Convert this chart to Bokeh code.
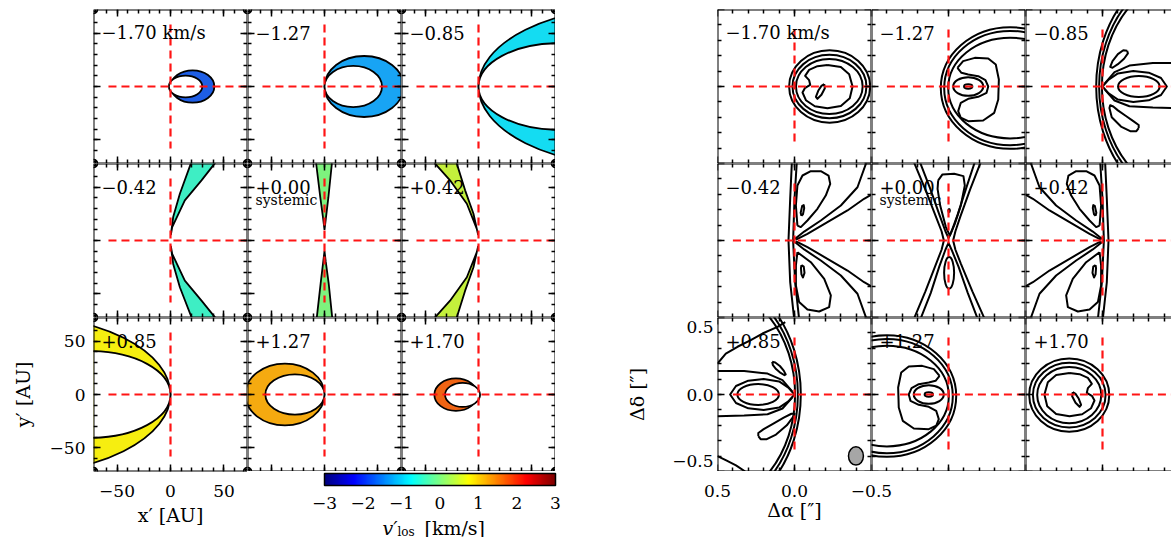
import numpy as np
from bokeh.plotting import figure
from bokeh.models import (GridBox, Range1d, LinearAxis, FixedTicker, Label,
                          LinearColorMapper, ColumnDataSource)
from bokeh.embed import file_html
from bokeh.resources import INLINE

# ======================= DATA =======================
PANEL_LABELS = ["−1.70 km/s", "−1.27", "−0.85", "−0.42", "+0.00", "+0.42", "+0.85", "+1.27", "+1.70"]
SYSTEMIC_LABEL = "systemic"
CHANNEL_FILL = ["#1e5ee6", "#18a4f4", "#14dcf2", "#3eeec4", "#7ef27e",
                "#c4f03c", "#f6ee10", "#f5aa10", "#f06414"]

# axis ticks
AU_MAJOR = [-50, 0, 50]
AU_MINOR = [-70, -60, -50, -40, -30, -20, -10, 0, 10, 20, 30, 40, 50, 60, 70]
AU_LABELS = ["−50", "0", "50"]
AS_MAJOR = [0.5, 0.0, -0.5]
AS_MINOR = [0.4, 0.3, 0.2, 0.1, 0.0, -0.1, -0.2, -0.3, -0.4]
AS_LABELS = ["0.5", "0.0", "−0.5"]
AS_YLABEL_AT = [0.44, 0.0, -0.43]
CBAR_TICKS = [-3, -2, -1, 0, 1, 2, 3]
CBAR_LABELS = ["−3", "−2", "−1", "0", "1", "2", "3"]
CBAR_LOW, CBAR_HIGH = -3.0, 3.0

# ---- left grid: iso-velocity regions [AU] ----
# crescents: (cx, cy, width, height) of outer (filled) and inner (hole) ellipse
LEFT_OUTER = [(20.65, 0.0, 40.7, 30.3), (37.0, 0.0, 74.0, 57.0), (150.0, 0.0, 300.0, 150.0),
              None, None, None,
              (-150.0, 0.0, 300.0, 150.0), (-37.0, 0.0, 74.0, 57.75), (-21.1, -0.15, 40.35, 30.3)]
LEFT_INNER = [(14.1, 0.0, 31.2, 20.3), (26.9, 0.0, 53.8, 38.5), (75.0, 0.0, 150.0, 81.0),
              None, None, None,
              (-75.0, 0.0, 150.0, 81.0), (-27.65, 0.0, 55.3, 37.5), (-14.9, -0.35, 32.75, 22.5)]
# wedge outlines for the low-velocity channels
WEDGE_M042_UP = [(0.3, 5), (2.5, 21.9), (8.75, 43.75), (19, 71.9), (21, 78), (46, 78),
                 (41.25, 71.9), (29, 56.25), (13.4, 37.5), (1.6, 12.5), (0.3, 5)]
WEDGE_M042_DN = [(0.3, -5), (2.5, -21.9), (8.75, -43.75), (19.7, -71.9), (21.5, -78), (46, -78),
                 (41.6, -71.9), (29, -56.25), (13.4, -37.5), (1.6, -12.5), (0.3, -5)]
WEDGE_000_UP = [(0, 10), (-1.2, 20), (-3.9, 40), (-7.8, 72), (-8.5, 78), (7.5, 78),
                (6.9, 72), (3.6, 40), (1.2, 20), (0, 10)]
WEDGE_000_DN = [(0, -10), (-1.2, -20), (-3.6, -40), (-7.2, -72), (-7.8, -78), (7.8, -78),
                (7.2, -72), (3.9, -40), (1.2, -20), (0, -10)]
WEDGE_P042_UP = [(-0.3, 5), (-4.7, 25), (-12.5, 46.9), (-20.3, 71.9), (-22, 78), (-44, 78),
                 (-40.6, 71.9), (-26.6, 56.25), (-10.9, 34.4), (-1.6, 10.9), (-0.3, 5)]
WEDGE_P042_DN = [(-0.3, -5), (-4.7, -25), (-12.5, -46.9), (-20.3, -71.9), (-22, -78), (-44, -78),
                 (-40.6, -71.9), (-26.6, -56.25), (-10.9, -34.4), (-1.6, -10.9), (-0.3, -5)]
LEFT_WEDGES = [None, None, None, [WEDGE_M042_UP, WEDGE_M042_DN], [WEDGE_000_UP, WEDGE_000_DN],
               [WEDGE_P042_UP, WEDGE_P042_DN], None, None, None]

# ---- right grid: synthetic channel-map contours [arcsec] ----
# ellipses: (x, y, width, height); curves: lists of (x, y)
R_M170_ELL = [(-0.228, 0.0, 0.526, 0.470), (-0.227, 0.0, 0.480, 0.411), (-0.226, 0.0, 0.433, 0.357)]
R_M170_CRV = [
    [(-0.214, 0.139), (-0.301, 0.126), (-0.355, 0.080), (-0.377, 0.0), (-0.359, -0.076), (-0.301, -0.126),
     (-0.214, -0.141), (-0.132, -0.128), (-0.074, -0.089), (-0.052, -0.039), (-0.067, -0.011),
     (-0.102, 0.011), (-0.095, 0.041), (-0.069, 0.069), (-0.095, 0.108), (-0.149, 0.132), (-0.214, 0.139)],
    [(-0.193, 0.015), (-0.197, -0.011), (-0.175, -0.054), (-0.149, -0.080), (-0.139, -0.067),
     (-0.154, -0.028), (-0.175, 0.004), (-0.193, 0.015)]]
R_M127_ELL = [(-0.40, -0.01, 0.90, 0.79), (-0.40, -0.01, 0.856, 0.742), (-0.40, -0.01, 0.804, 0.654),
              (-0.128, 0.0, 0.195, 0.12), (-0.128, 0.0, 0.054, 0.028)]
R_M127_CRV = [
    [(-0.058, 0.121), (-0.095, 0.165), (-0.171, 0.186), (-0.258, 0.182), (-0.307, 0.143), (-0.327, 0.045),
     (-0.323, -0.084), (-0.297, -0.171), (-0.225, -0.221), (-0.128, -0.225), (-0.080, -0.203),
     (-0.063, -0.160), (-0.080, -0.106), (-0.128, -0.080), (-0.193, -0.067), (-0.247, -0.041),
     (-0.258, 0.0), (-0.240, 0.041), (-0.193, 0.067), (-0.128, 0.078), (-0.084, 0.089), (-0.058, 0.121)]]
R_M085_ELL = [(-0.6, 0.0, 1.282, 1.60), (-0.6, 0.0, 1.244, 1.526), (-0.6, 0.0, 1.208, 1.458),
              (-0.236, 0.0, 0.27, 0.136)]
R_M085_CRV = [
    [(-0.5, 0.152), (-0.327, 0.152), (-0.175, 0.136), (-0.078, 0.093), (-0.015, 0.02)],
    [(-0.5, -0.141), (-0.327, -0.136), (-0.175, -0.128), (-0.078, -0.091), (-0.015, -0.02)],
    [(0.0, 0.0), (-0.04, 0.045), (-0.10, 0.085), (-0.20, 0.10), (-0.30, 0.09), (-0.38, 0.055), (-0.418, 0.0),
     (-0.38, -0.055), (-0.30, -0.09), (-0.20, -0.10), (-0.10, -0.085), (-0.04, -0.045), (0.0, 0.0)],
    [(-0.16, 0.232), (-0.135, 0.235), (-0.10, 0.21), (-0.065, 0.165), (-0.05, 0.128), (-0.065, 0.122),
     (-0.10, 0.145), (-0.14, 0.18), (-0.165, 0.215), (-0.16, 0.232)],
    [(-0.235, -0.27), (-0.22, -0.29), (-0.18, -0.29), (-0.12, -0.26), (-0.06, -0.2), (-0.045, -0.14),
     (-0.05, -0.122), (-0.07, -0.13), (-0.10, -0.155), (-0.15, -0.19), (-0.2, -0.225), (-0.235, -0.25),
     (-0.235, -0.27)]]
R_M042_ELL = []
R_M042_CRV = [
    [(0.017, 0.51), (0.028, 0.271), (0.039, 0.0), (0.028, -0.271), (0.002, -0.51)],
    [(-0.015, 0.51), (0.0, 0.271), (0.009, 0.0), (-0.004, -0.271), (-0.030, -0.51)],
    [(-0.019, 0.097), (-0.009, 0.227), (-0.019, 0.357), (-0.052, 0.422), (-0.106, 0.450), (-0.171, 0.450),
     (-0.221, 0.422), (-0.232, 0.368), (-0.203, 0.292), (-0.149, 0.206), (-0.084, 0.130), (-0.041, 0.087),
     (-0.019, 0.097)],
    [(-0.045, 0.16), (-0.04, 0.18), (-0.05, 0.225), (-0.06, 0.23), (-0.063, 0.21), (-0.055, 0.17), (-0.045, 0.16)],
    [(-0.019, -0.076), (-0.106, -0.141), (-0.193, -0.249), (-0.236, -0.357), (-0.225, -0.433),
     (-0.160, -0.461), (-0.084, -0.448), (-0.030, -0.400), (-0.009, -0.292), (-0.009, -0.162), (-0.019, -0.076)],
    [(-0.045, -0.16), (-0.06, -0.17), (-0.065, -0.21), (-0.055, -0.24), (-0.045, -0.22), (-0.042, -0.18), (-0.045, -0.16)],
    [(-0.002, 0.01), (-0.063, 0.058), (-0.171, 0.130), (-0.301, 0.227), (-0.409, 0.346), (-0.468, 0.51)],
    [(-0.01, 0.005), (-0.084, 0.043), (-0.214, 0.119), (-0.344, 0.195), (-0.452, 0.271), (-0.51, 0.303)],
    [(-0.002, -0.01), (-0.063, -0.058), (-0.171, -0.130), (-0.301, -0.227), (-0.409, -0.346), (-0.468, -0.51)],
    [(-0.01, -0.005), (-0.084, -0.043), (-0.214, -0.119), (-0.344, -0.195), (-0.452, -0.271), (-0.51, -0.303)]]
R_P000_ELL = [(-0.004, -0.21, 0.065, 0.205), (-0.004, 0.195, 0.01, 0.02)]
R_P000_CRV = [
    [(0.225, 0.51), (0.15, 0.33), (0.08, 0.15), (0.045, 0.06), (0.03, 0.0), (0.045, -0.06), (0.08, -0.15),
     (0.15, -0.33), (0.225, -0.51)],
    [(-0.21, 0.51), (-0.14, 0.33), (-0.075, 0.15), (-0.045, 0.06), (-0.03, 0.0), (-0.045, -0.06),
     (-0.08, -0.15), (-0.155, -0.33), (-0.235, -0.51)],
    [(0.186, 0.51), (0.12, 0.34), (0.06, 0.17), (0.02, 0.06), (0.0, 0.015), (-0.02, 0.06), (-0.06, 0.17),
     (-0.115, 0.34), (-0.171, 0.51)],
    [(0.182, -0.51), (0.115, -0.34), (0.06, -0.17), (0.02, -0.06), (0.0, -0.015), (-0.02, -0.06),
     (-0.065, -0.17), (-0.125, -0.34), (-0.19, -0.51)],
    [(0.067, 0.39), (0.039, 0.429), (-0.037, 0.433), (-0.097, 0.418), (-0.106, 0.357), (-0.080, 0.227),
     (-0.041, 0.108), (-0.009, 0.032), (0.017, 0.087), (0.054, 0.227), (0.071, 0.335), (0.067, 0.39)]]
R_P042_ELL = []
R_P042_CRV = [
    [(-0.017, 0.51), (-0.028, 0.271), (-0.039, 0.0), (-0.028, -0.271), (-0.002, -0.51)],
    [(0.015, 0.51), (0.0, 0.271), (-0.009, 0.0), (0.004, -0.271), (0.030, -0.51)],
    [(0.019, 0.097), (0.009, 0.227), (0.019, 0.357), (0.052, 0.422), (0.106, 0.450), (0.171, 0.450),
     (0.221, 0.422), (0.232, 0.368), (0.203, 0.292), (0.149, 0.206), (0.084, 0.130), (0.041, 0.087),
     (0.019, 0.097)],
    [(0.045, 0.16), (0.04, 0.18), (0.05, 0.225), (0.06, 0.23), (0.063, 0.21), (0.055, 0.17), (0.045, 0.16)],
    [(0.019, -0.076), (0.106, -0.141), (0.193, -0.249), (0.236, -0.357), (0.225, -0.433),
     (0.160, -0.461), (0.084, -0.448), (0.030, -0.400), (0.009, -0.292), (0.009, -0.162), (0.019, -0.076)],
    [(0.045, -0.16), (0.06, -0.17), (0.065, -0.21), (0.055, -0.24), (0.045, -0.22), (0.042, -0.18), (0.045, -0.16)],
    [(0.002, 0.01), (0.063, 0.058), (0.171, 0.130), (0.301, 0.227), (0.409, 0.346), (0.468, 0.51)],
    [(0.01, 0.005), (0.084, 0.043), (0.214, 0.119), (0.344, 0.195), (0.452, 0.271), (0.51, 0.303)],
    [(0.002, -0.01), (0.063, -0.058), (0.171, -0.130), (0.301, -0.227), (0.409, -0.346), (0.468, -0.51)],
    [(0.01, -0.005), (0.084, -0.043), (0.214, -0.119), (0.344, -0.195), (0.452, -0.271), (0.51, -0.303)]]
R_P085_ELL = [(0.6, 0.0, 1.282, 1.60), (0.6, 0.0, 1.244, 1.526), (0.6, 0.0, 1.208, 1.458),
              (0.236, 0.0, 0.27, 0.136)]
R_P085_CRV = [
    [(0.5, 0.152), (0.327, 0.152), (0.175, 0.136), (0.078, 0.093), (0.015, 0.02)],
    [(0.5, -0.141), (0.327, -0.136), (0.175, -0.128), (0.078, -0.091), (0.015, -0.02)],
    [(0.0, 0.0), (0.04, 0.045), (0.10, 0.085), (0.20, 0.10), (0.30, 0.09), (0.38, 0.055), (0.418, 0.0),
     (0.38, -0.055), (0.30, -0.09), (0.20, -0.10), (0.10, -0.085), (0.04, -0.045), (0.0, 0.0)],
    [(0.145, 0.212), (0.125, 0.208), (0.095, 0.185), (0.07, 0.155), (0.057, 0.13), (0.065, 0.125),
     (0.09, 0.14), (0.12, 0.165), (0.14, 0.19), (0.145, 0.212)],
    [(0.235, -0.27), (0.22, -0.29), (0.18, -0.29), (0.12, -0.26), (0.05, -0.2), (0.005, -0.14),
     (0.0, -0.125), (0.02, -0.125), (0.07, -0.15), (0.14, -0.19), (0.2, -0.225), (0.235, -0.25), (0.235, -0.27)],
    [(0.5, 0.201), (0.446, 0.266), (0.370, 0.310), (0.284, 0.353), (0.208, 0.396), (0.110, 0.439), (0.06, 0.47)],
    [(0.5, -0.40), (0.44, -0.43), (0.38, -0.46), (0.32, -0.50)]]
R_P127_ELL = [(0.40, -0.01, 0.90, 0.79), (0.40, -0.01, 0.856, 0.742), (0.40, -0.01, 0.804, 0.654),
              (0.128, 0.0, 0.195, 0.12), (0.128, 0.0, 0.054, 0.028)]
R_P127_CRV = [
    [(0.058, 0.121), (0.095, 0.165), (0.171, 0.186), (0.258, 0.182), (0.307, 0.143), (0.327, 0.045),
     (0.323, -0.084), (0.297, -0.171), (0.225, -0.221), (0.128, -0.225), (0.080, -0.203),
     (0.063, -0.160), (0.080, -0.106), (0.128, -0.080), (0.193, -0.067), (0.247, -0.041),
     (0.258, 0.0), (0.240, 0.041), (0.193, 0.067), (0.128, 0.078), (0.084, 0.089), (0.058, 0.121)]]
R_P170_ELL = [(0.216, -0.004, 0.52, 0.476), (0.216, -0.004, 0.472, 0.42), (0.216, -0.004, 0.416, 0.364)]
R_P170_CRV = [
    [(0.214, 0.139), (0.301, 0.126), (0.355, 0.080), (0.377, 0.0), (0.359, -0.076), (0.301, -0.126),
     (0.214, -0.141), (0.132, -0.128), (0.074, -0.089), (0.052, -0.039), (0.067, -0.011),
     (0.102, 0.011), (0.095, 0.041), (0.069, 0.069), (0.095, 0.108), (0.149, 0.132), (0.214, 0.139)],
    [(0.193, 0.015), (0.197, -0.011), (0.175, -0.054), (0.149, -0.080), (0.139, -0.067),
     (0.154, -0.028), (0.175, 0.004), (0.193, 0.015)]]
RIGHT_ELLIPSES = [R_M170_ELL, R_M127_ELL, R_M085_ELL, R_M042_ELL, R_P000_ELL,
                  R_P042_ELL, R_P085_ELL, R_P127_ELL, R_P170_ELL]
RIGHT_CURVES = [R_M170_CRV, R_M127_CRV, R_M085_CRV, R_M042_CRV, R_P000_CRV,
                R_P042_CRV, R_P085_CRV, R_P127_CRV, R_P170_CRV]
BEAM = (-0.399, -0.399, 0.097, 0.119)   # synthesized beam (x, y, width, height), panel +0.85

# ======================= LAYOUT / STYLE =======================
FR = 154                      # panel frame size in px
AU_LIM = 72.0
AS_LIM = 0.5
LAST_W = 146                  # last column is cut by the page edge
AS_CUT = 0.5 - LAST_W / FR
LEFT_H = (-58, 72)
LEFT_V = (58, -58)
RIGHT_H = (0.40, -0.5)
RIGHT_V = (0.37, -0.38)
DASH_RED = "#ff1414"
SERIF = "DejaVu Serif"
TICK_FS = "17px"
PAGE_W, PAGE_H = 1171, 537
STRIP_X0 = 247               # strip under the grids starts here (window px)
CB_X0, CB_X1 = 324, 555      # colour bar extent (window px)
CB_Y0, CB_Y1 = 473, 485      # colour bar top / bottom (window px)
STRIP_Y0 = 471
RIGHT_FRAME_X0 = 717


def jet(t):
    r = min(max(1.5 - abs(4 * t - 3), 0.0), 1.0)
    g = min(max(1.5 - abs(4 * t - 2), 0.0), 1.0)
    b = min(max(1.5 - abs(4 * t - 1), 0.0), 1.0)
    return "#%02x%02x%02x" % (int(r * 255), int(g * 255), int(b * 255))


JET256 = [jet(i / 255) for i in range(256)]


def make_fig(w, h, xr, yr, bl=0, bt=0, bb=0):
    p = figure(width=w, height=h, x_range=Range1d(*xr), y_range=Range1d(*yr),
               x_axis_type=None, y_axis_type=None, toolbar_location=None,
               output_backend="svg", title=None,
               min_border_left=bl, min_border_right=0, min_border_top=bt, min_border_bottom=bb)
    p.outline_line_color = None
    p.background_fill_color = "white"
    p.border_fill_color = "white"
    try:
        p.frame_align = False
    except Exception:
        pass
    return p


def frame_axes(p, xr, yr, major, minor, skip_right=False):
    sides = [("below", yr[0]), ("above", yr[1]), ("left", xr[0])]
    if not skip_right:
        sides.append(("right", xr[1]))
    for side, loc in sides:
        ax = LinearAxis(ticker=FixedTicker(ticks=major, minor_ticks=minor), fixed_location=loc,
                        major_tick_in=7, major_tick_out=0, minor_tick_in=4, minor_tick_out=0,
                        axis_line_width=2, axis_line_color="black",
                        major_tick_line_width=1.5, minor_tick_line_width=1.5,
                        major_label_overrides={t: "" for t in major})
        p.add_layout(ax, side)


def label_axis(p, side, ticks, labels, title, standoff, title_standoff, **kw):
    ax = LinearAxis(ticker=FixedTicker(ticks=ticks),
                    major_tick_in=0, major_tick_out=0, minor_tick_in=0, minor_tick_out=0,
                    axis_line_color=None, major_tick_line_color=None, minor_tick_line_color=None,
                    major_label_overrides=dict(zip(ticks, labels)),
                    major_label_standoff=standoff,
                    major_label_text_font=SERIF, major_label_text_font_size=TICK_FS,
                    major_label_text_color="black",
                    axis_label=title, axis_label_standoff=title_standoff,
                    axis_label_text_font=SERIF, axis_label_text_font_size="19px",
                    axis_label_text_font_style="normal", axis_label_text_color="black", **kw)
    p.add_layout(ax, side)


def panel_label(p, i):
    p.add_layout(Label(x=8, y=FR - 23, x_units="screen", y_units="screen", text=PANEL_LABELS[i],
                       text_font=SERIF, text_font_size="18px", text_color="black",
                       text_baseline="alphabetic", text_align="left"))
    if PANEL_LABELS[i] == "+0.00":
        p.add_layout(Label(x=8, y=FR - 36, x_units="screen", y_units="screen", text=SYSTEMIC_LABEL,
                           text_font=SERIF, text_font_size="14px", text_color="black",
                           text_baseline="alphabetic", text_align="left"))


def crosshair(p, h, v):
    p.segment(x0=[h[0], 0], y0=[0, v[0]], x1=[h[1], 0], y1=[0, v[1]],
              line_color=DASH_RED, line_width=2.2, line_dash="8 5")


row_h = [163, 154, 154]
row_bt = [9, 0, 0]
BOTTOM_BORDER = PAGE_H - STRIP_Y0

# ---------------- left grid ----------------
left_w = [247, 154, 154]
left_bl = [93, 0, 0]
left_figs = [[None] * 3 for _ in range(3)]
for i in range(9):
    r, c = divmod(i, 3)
    h, bb = row_h[r], 0
    if r == 2 and c == 0:
        h, bb = FR + BOTTOM_BORDER, BOTTOM_BORDER
    xr = (-AU_LIM, AU_LIM)
    yr = (-AU_LIM, AU_LIM)
    p = make_fig(left_w[c], h, xr, yr, bl=left_bl[c], bt=row_bt[r], bb=bb)
    if LEFT_OUTER[i] is not None:
        ox, oy, ow, oh = LEFT_OUTER[i]
        ix, iy, iw, ih = LEFT_INNER[i]
        p.ellipse(x=[ox], y=[oy], width=[ow], height=[oh], fill_color=CHANNEL_FILL[i],
                  line_color="black", line_width=1.8)
        p.ellipse(x=[ix], y=[iy], width=[iw], height=[ih], fill_color="white",
                  line_color="black", line_width=1.8)
    if LEFT_WEDGES[i] is not None:
        xs = [[q[0] for q in wdg] for wdg in LEFT_WEDGES[i]]
        ys = [[q[1] for q in wdg] for wdg in LEFT_WEDGES[i]]
        p.patches(xs=xs, ys=ys, fill_color=CHANNEL_FILL[i], line_color="black", line_width=1.8)
    crosshair(p, LEFT_H, LEFT_V)
    p.scatter(x=[-AU_LIM, AU_LIM, -AU_LIM, AU_LIM], y=[-AU_LIM, -AU_LIM, AU_LIM, AU_LIM],
              marker="circle", size=8, fill_color=None, line_color="black", line_width=1.5)
    frame_axes(p, xr, yr, AU_MAJOR, AU_MINOR)
    if r == 2 and c == 0:
        label_axis(p, "below", AU_MAJOR, AU_LABELS, "x′ [AU]", 13, 4)
        label_axis(p, "left", AU_MAJOR, AU_LABELS, "y′ [AU]", 8, 13)
    panel_label(p, i)
    left_figs[r][c] = p

# ---------------- right grid ----------------
right_w = [316, 154, LAST_W]
right_bl = [RIGHT_FRAME_X0 - 555, 0, 0]
right_figs = [[None] * 3 for _ in range(3)]
for i in range(9):
    r, c = divmod(i, 3)
    xr = (AS_LIM, AS_CUT if c == 2 else -AS_LIM)
    yr = (-AS_LIM, AS_LIM)
    p = make_fig(right_w[c], row_h[r], xr, yr, bl=right_bl[c], bt=row_bt[r])
    ell = RIGHT_ELLIPSES[i]
    if ell:
        src = ColumnDataSource(dict(x=[e[0] for e in ell], y=[e[1] for e in ell],
                                    w=[e[2] for e in ell], h=[e[3] for e in ell]))
        p.ellipse(x="x", y="y", width="w", height="h", source=src, fill_color=None,
                  line_color="black", line_width=2)
    crv = RIGHT_CURVES[i]
    if crv:
        p.multi_line(xs=[[q[0] for q in cc] for cc in crv], ys=[[q[1] for q in cc] for cc in crv],
                     line_color="black", line_width=2, line_join="round")
    if PANEL_LABELS[i] == "+0.85":
        p.ellipse(x=[BEAM[0]], y=[BEAM[1]], width=[BEAM[2]], height=[BEAM[3]],
                  fill_color="#a6a6a6", line_color="black", line_width=1.5)
    crosshair(p, RIGHT_H, RIGHT_V)
    frame_axes(p, xr, yr, AS_MAJOR, AS_MINOR, skip_right=(c == 2))
    if r == 2 and c == 0:
        label_axis(p, "left", AS_YLABEL_AT, AS_LABELS, "Δδ [″]", 4, 21)
    panel_label(p, i)
    right_figs[r][c] = p

# ---------------- bottom strip: colour bar + Δα labels ----------------
strip_w = PAGE_W - STRIP_X0
cb_scale = (CB_X1 - CB_X0) / (CBAR_HIGH - CBAR_LOW)
sx0 = CBAR_LOW - (CB_X0 - STRIP_X0) / cb_scale
sx1 = sx0 + strip_w / cb_scale
bar_px = CB_Y1 - CB_Y0
sy1 = 1 + (CB_Y0 - STRIP_Y0) / bar_px
sy0 = -(PAGE_H - CB_Y1) / bar_px
strip = make_fig(strip_w, BOTTOM_BORDER, (sx0, sx1), (sy0, sy1))
as0 = AS_LIM + (RIGHT_FRAME_X0 - STRIP_X0) / FR
strip.extra_x_ranges = {"arcsec": Range1d(as0, as0 - strip_w / FR)}

mapper = LinearColorMapper(palette=JET256, low=CBAR_LOW, high=CBAR_HIGH)
strip.image(image=[np.linspace(CBAR_LOW, CBAR_HIGH, 256).reshape(1, -1)],
            x=CBAR_LOW, y=0, dw=CBAR_HIGH - CBAR_LOW, dh=1, color_mapper=mapper)
strip.quad(left=[CBAR_LOW], right=[CBAR_HIGH], bottom=[0], top=[1], fill_color=None,
           line_color="black", line_width=1.5)
cax = LinearAxis(ticker=FixedTicker(ticks=CBAR_TICKS), fixed_location=0,
                 major_tick_in=0, major_tick_out=0, minor_tick_in=0, minor_tick_out=0,
                 axis_line_color=None, major_tick_line_color=None, minor_tick_line_color=None,
                 major_label_overrides=dict(zip(CBAR_TICKS, CBAR_LABELS)),
                 major_label_standoff=11, major_label_text_font=SERIF,
                 major_label_text_font_size=TICK_FS, major_label_text_color="black")
strip.add_layout(cax, "below")
aax = LinearAxis(ticker=FixedTicker(ticks=AS_MAJOR), fixed_location=sy1, x_range_name="arcsec",
                 major_tick_in=0, major_tick_out=0, minor_tick_in=0, minor_tick_out=0,
                 axis_line_color=None, major_tick_line_color=None, minor_tick_line_color=None,
                 major_label_overrides=dict(zip(AS_MAJOR, AS_LABELS)),
                 major_label_standoff=13, major_label_text_font=SERIF,
                 major_label_text_font_size=TICK_FS, major_label_text_color="black")
strip.add_layout(aax, "below")
strip.add_layout(Label(x=0.0, y=28, x_units="data", y_units="screen", x_range_name="arcsec",
                       text="Δα [″]", text_font=SERIF, text_font_size="19px", text_color="black",
                       text_baseline="alphabetic", text_align="center"))
for txt, x, y, size, style in [("v′", 382, 10, "19px", "italic"), ("los", 397, 6, "12px", "normal"),
                               ("[km/s]", 424, 10, "19px", "normal")]:
    strip.add_layout(Label(x=x - STRIP_X0, y=y, x_units="screen", y_units="screen", text=txt,
                           text_font=SERIF, text_font_size=size, text_font_style=style,
                           text_color="black", text_baseline="alphabetic", text_align="left"))

# ---------------- assemble ----------------
children = []
for r in range(3):
    for c in range(3):
        span = 2 if (r == 2 and c == 0) else 1
        children.append((left_figs[r][c], r, c, span, 1))
        children.append((right_figs[r][c], r, 3 + c, 1, 1))
children.append((strip, 3, 1, 1, 5))
grid = GridBox(children=children, spacing=0)

open("out.html", "w").write(file_html(grid, INLINE))
